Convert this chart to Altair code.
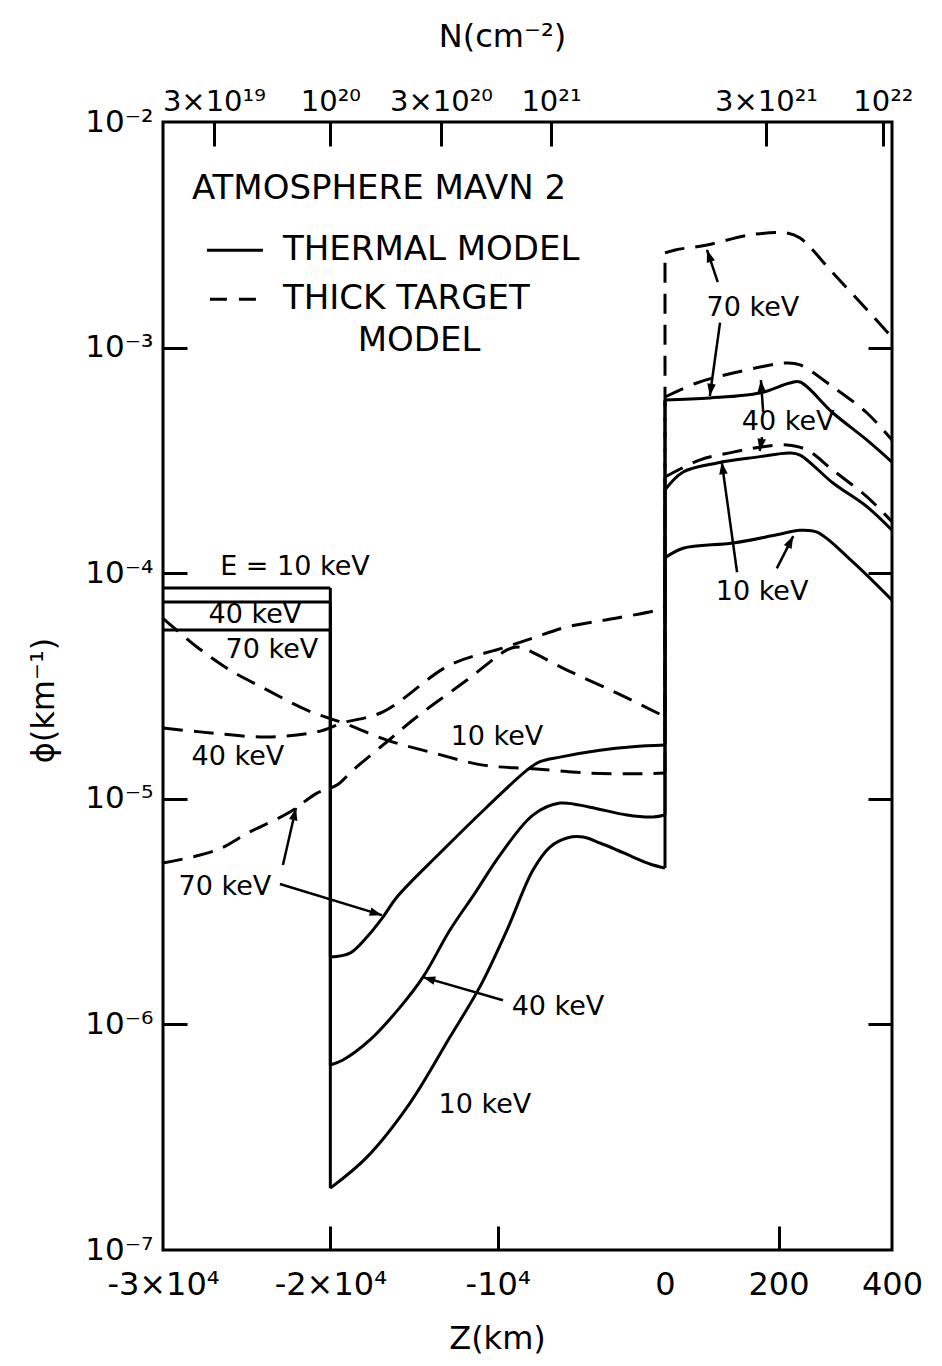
import math
import altair as alt
import pandas as pd

# ------------------------------------------------------------------
# Values.
# z in km: negative part is drawn on the -3e4..0 axis, positive part on
# the 0..400 km axis (broken axis).  phi in km^-1.
# ------------------------------------------------------------------

# Thermal model (solid)
TH10_Z_LEFT = [-30000, -20000, -20000, -17811, -15241, -12851, -11057, -9444, -7890,
               -6874, -5857, -4901, -3885, -2869, -1913, -897, 0]
TH10_PHI_LEFT = [8.6e-5, 8.6e-5, 1.88e-7, 2.58e-7, 4.48e-7, 8.79e-7, 1.47e-6, 2.62e-6, 4.83e-6,
                 6.11e-6, 6.70e-6, 6.77e-6, 6.37e-6, 5.93e-6, 5.52e-6, 5.14e-6, 4.93e-6]
TH10_Z_RIGHT = [0, 32, 120, 197, 238, 268, 328, 400]
TH10_PHI_RIGHT = [1.17e-4, 1.29e-4, 1.36e-4, 1.48e-4, 1.55e-4, 1.52e-4, 1.14e-4, 7.6e-5]

TH40_Z_LEFT = [-30000, -20000, -20000, -19246, -17632, -15839, -14464, -12851, -11356,
               -9862, -7890, -6276, -4483, -2271, -717, 0]
TH40_PHI_LEFT = [7.45e-5, 7.45e-5, 6.61e-7, 6.95e-7, 8.53e-7, 1.19e-6, 1.62e-6, 2.62e-6, 3.82e-6,
                 5.63e-6, 8.47e-6, 9.57e-6, 9.18e-6, 8.47e-6, 8.30e-6, 8.47e-6]
TH40_Z_RIGHT = [0, 32, 92, 162, 220, 238, 296, 356, 400]
TH40_PHI_RIGHT = [2.34e-4, 2.81e-4, 3.08e-4, 3.27e-4, 3.41e-4, 3.34e-4, 2.51e-4, 1.97e-4, 1.55e-4]

TH70_Z_LEFT = [-30000, -20000, -20000, -18828, -17811, -16855, -16018, -13448, -10639,
               -8248, -7471, -6276, -3885, -1913, 0]
TH70_PHI_LEFT = [5.6e-5, 5.6e-5, 1.99e-6, 2.07e-6, 2.44e-6, 2.99e-6, 3.67e-6, 5.75e-6, 9.2e-6,
                 1.34e-5, 1.46e-5, 1.53e-5, 1.64e-5, 1.70e-5, 1.73e-5]
TH70_Z_RIGHT = [0, 79, 167, 220, 238, 296, 356, 400]
TH70_PHI_RIGHT = [5.86e-4, 5.98e-4, 6.29e-4, 6.97e-4, 7.04e-4, 5.13e-4, 3.89e-4, 3.11e-4]

# Thick target model (dashed)
TT10_Z_LEFT = [-30000, -27972, -26000, -23788, -21398, -19246, -16616, -13867, -10878,
               -7890, -4483, -1913, 0]
TT10_PHI_LEFT = [6.3e-5, 4.71e-5, 3.72e-5, 3.04e-5, 2.47e-5, 2.17e-5, 1.82e-5, 1.60e-5, 1.41e-5,
                 1.36e-5, 1.30e-5, 1.29e-5, 1.30e-5]
TT10_Z_RIGHT = [0, 62, 120, 167, 215, 250, 296, 356, 400]
TT10_PHI_RIGHT = [2.67e-4, 3.18e-4, 3.44e-4, 3.62e-4, 3.70e-4, 3.52e-4, 2.86e-4, 2.18e-4, 1.69e-4]

TT40_Z_LEFT = [-30000, -27793, -23788, -20800, -19246, -16855, -12851, -9683, -7890,
               -5857, -2869, -418, 0]
TT40_PHI_LEFT = [2.06e-5, 1.98e-5, 1.88e-5, 1.98e-5, 2.17e-5, 2.43e-5, 3.92e-5, 4.66e-5, 5.16e-5,
                 5.78e-5, 6.33e-5, 6.87e-5, 7.08e-5]
TT40_Z_RIGHT = [0, 56, 120, 215, 238, 296, 356, 400]
TT40_PHI_RIGHT = [6.04e-4, 6.97e-4, 7.71e-4, 8.55e-4, 8.38e-4, 6.69e-4, 5.13e-4, 3.89e-4]

TT70_Z_LEFT = [-30000, -26777, -24805, -22414, -20800, -19605, -18648, -16616, -14823,
               -11834, -9444, -8846, -8248, -5857, -2869, 0]
TT70_PHI_LEFT = [5.19e-6, 5.93e-6, 7.13e-6, 8.74e-6, 1.06e-5, 1.15e-5, 1.34e-5, 1.79e-5, 2.31e-5,
                 3.36e-5, 4.57e-5, 4.71e-5, 4.57e-5, 3.72e-5, 2.94e-5, 2.31e-5]
TT70_Z_RIGHT = [0, 18, 74, 150, 215, 238, 296, 356, 400]
TT70_PHI_RIGHT = [2.63e-3, 2.71e-3, 2.85e-3, 3.16e-3, 3.22e-3, 3.06e-3, 2.14e-3, 1.47e-3, 1.11e-3]

# Curve labels
ANN_TEXT = ["E = 10 keV", "40 keV", "70 keV", "40 keV", "10 keV", "70 keV",
            "40 keV", "10 keV", "70 keV", "40 keV", "10 keV"]
ANN_Z = [-22115, -24506, -23490, -25522, -10041, -26299, -6395, -10759, 155, 217, 171]
ANN_PHI = [1.06e-4, 6.53e-5, 4.57e-5, 1.53e-5, 1.88e-5, 4.06e-6, 1.19e-6, 4.39e-7,
           1.50e-3, 4.68e-4, 8.26e-5]

# Header and legend
HEAD_TEXT = ["ATMOSPHERE  MAVN 2", "THERMAL  MODEL", "THICK  TARGET"]
HEAD_Z = [-28271, -22832, -22832]
HEAD_PHI = [5.05e-3, 2.7e-3, 1.64e-3]
HEAD2_TEXT = ["MODEL"]
HEAD2_Z = [-14703]
HEAD2_PHI = [1.07e-3]
LEG_SOLID_Z = [-27375, -24028]
LEG_SOLID_PHI = 2.7e-3
LEG_DASH_Z = [-27196, -24207]
LEG_DASH_PHI = 1.64e-3

# Arrows (tail -> tip)
ARR_Z_FROM = [-23011, -22832, -9683, 93, 97, 173, 171, 127, 197]
ARR_PHI_FROM = [4.19e-6, 5.09e-6, 1.28e-6, 1.95e-3, 1.29e-3, 5.18e-4, 4.01e-4, 1.01e-4, 1.05e-4]
ARR_Z_TO = [-16915, -22055, -14464, 74, 79, 169, 167, 100, 226]
ARR_PHI_TO = [3.05e-6, 9.10e-6, 1.62e-6, 2.71e-3, 6.10e-4, 7.18e-4, 3.48e-4, 3.11e-4, 1.46e-4]

# Axes
X_TICK_Z = [-30000, -20000, -10000, 0, 200, 400]
X_TICK_LABELS = ["-3×10⁴", "-2×10⁴", "-10⁴", "0", "200", "400"]
X_INNER_TICK_Z = [-20000, -10000, 200]
N_TICK_Z = [-26960, -20000, -13388, -6814, 178, 384]
N_TICK_LABELS = ["3×10¹⁹", "10²⁰", "3×10²⁰", "10²¹", "3×10²¹", "10²²"]
Y_TICK_EXP = [-7, -6, -5, -4, -3, -2]
Y_TICK_LABELS = ["10⁻⁷", "10⁻⁶", "10⁻⁵", "10⁻⁴", "10⁻³", "10⁻²"]
Y_INNER_TICK_EXP = [-6, -5, -4, -3]

# ------------------------------------------------------------------
# Broken axis: 1e4 km on the left part and 400 km on the right part
# ------------------------------------------------------------------
W, H = 729, 1128
RIGHT_SPAN_U = 3 * 227 / 502   # relative width of the 0..400 km segment
U_MIN, U_MAX = -3.0, RIGHT_SPAN_U
FONT = "DejaVu Sans"


def u_of(z):
    return z / 1e4 if z <= 0 else z / 400.0 * RIGHT_SPAN_U


curves = [
    ("th10", "thermal", TH10_Z_LEFT + TH10_Z_RIGHT, TH10_PHI_LEFT + TH10_PHI_RIGHT),
    ("th40", "thermal", TH40_Z_LEFT + TH40_Z_RIGHT, TH40_PHI_LEFT + TH40_PHI_RIGHT),
    ("th70", "thermal", TH70_Z_LEFT + TH70_Z_RIGHT, TH70_PHI_LEFT + TH70_PHI_RIGHT),
    ("tt10", "thick", TT10_Z_LEFT + TT10_Z_RIGHT, TT10_PHI_LEFT + TT10_PHI_RIGHT),
    ("tt40", "thick", TT40_Z_LEFT + TT40_Z_RIGHT, TT40_PHI_LEFT + TT40_PHI_RIGHT),
    ("tt70", "thick", TT70_Z_LEFT + TT70_Z_RIGHT, TT70_PHI_LEFT + TT70_PHI_RIGHT),
]

# split every curve into smooth runs (increasing z) and vertical jumps
rows = []
for name, model, zs, ps in curves:
    us = [u_of(z) for z in zs]
    piece = 0
    run = [(us[0], ps[0])]

    def flush(points, kind):
        for j, (uu, pp) in enumerate(points):
            rows.append({"piece": f"{name}-{kind}-{piece}", "model": model, "kind": kind,
                         "idx": j, "u": uu, "phi": pp})

    for i in range(1, len(us)):
        if us[i] == us[i - 1]:
            if len(run) > 1:
                flush(run, "smooth")
            piece += 1
            flush([(us[i - 1], ps[i - 1]), (us[i], ps[i])], "jump")
            piece += 1
            run = [(us[i], ps[i])]
        else:
            run.append((us[i], ps[i]))
    if len(run) > 1:
        flush(run, "smooth")
df = pd.DataFrame(rows)

ann = pd.DataFrame({"label": ANN_TEXT, "u": [u_of(z) for z in ANN_Z], "phi": ANN_PHI})
head = pd.DataFrame({"label": HEAD_TEXT, "u": [u_of(z) for z in HEAD_Z], "phi": HEAD_PHI})
head2 = pd.DataFrame({"label": HEAD2_TEXT, "u": [u_of(z) for z in HEAD2_Z], "phi": HEAD2_PHI})
leg = pd.DataFrame({
    "kind": ["solid", "dash"],
    "u1": [u_of(LEG_SOLID_Z[0]), u_of(LEG_DASH_Z[0])],
    "u2": [u_of(LEG_SOLID_Z[1]), u_of(LEG_DASH_Z[1])],
    "phi": [LEG_SOLID_PHI, LEG_DASH_PHI],
})


def arrow_angle(u1, p1, u2, p2):
    sx = (u2 - u1) / (U_MAX - U_MIN) * W
    sy = -(math.log10(p2) - math.log10(p1)) / 5.0 * H
    return math.degrees(math.atan2(sx, -sy)) % 360


arr = pd.DataFrame({
    "u1": [u_of(z) for z in ARR_Z_FROM], "p1": ARR_PHI_FROM,
    "u2": [u_of(z) for z in ARR_Z_TO], "p2": ARR_PHI_TO,
})
arr["ang"] = [arrow_angle(a, b, c, d) for a, b, c, d in zip(arr.u1, arr.p1, arr.u2, arr.p2)]


def label_expr(values, labels):
    parts = [f"abs(datum.value - ({v:.6f})) < 0.0005 ? '{l}'" for v, l in zip(values, labels)]
    return " : ".join(parts) + " : ''"


def ylabel_expr(exps, labels):
    parts = [f"abs(log(datum.value) / LN10 - ({e})) < 0.01 ? '{l}'" for e, l in zip(exps, labels)]
    return " : ".join(parts) + " : ''"


xs = alt.Scale(domain=[U_MIN, U_MAX], nice=False, zero=False)
ys = alt.Scale(type="log", domain=[1e-7, 1e-2], nice=False)

tick_style = dict(labels=False, ticks=True, tickSize=24, tickWidth=3, tickColor="black",
                  domain=False, grid=False, title=None)

ax_bottom = alt.Axis(orient="bottom", values=[u_of(z) for z in X_TICK_Z],
                     labelExpr=label_expr([u_of(z) for z in X_TICK_Z], X_TICK_LABELS),
                     ticks=False, tickSize=0, domain=False, grid=False,
                     labelFontSize=32, labelPadding=19, labelFlush=False, labelOverlap=False,
                     title="Z(km)", titleFontSize=32, titleX=334, titleY=88,
                     titleAlign="center", titleBaseline="middle")
ax_left = alt.Axis(orient="left", values=[10.0 ** e for e in Y_TICK_EXP],
                   labelExpr=ylabel_expr(Y_TICK_EXP, Y_TICK_LABELS),
                   ticks=False, tickSize=0, domain=False, grid=False,
                   labelFontSize=31, labelPadding=10, labelFlush=False, labelOverlap=False,
                   title="ϕ(km⁻¹)", titleFontSize=32, titleX=-120, titleY=578,
                   titleAngle=270, titleAlign="center", titleBaseline="middle")
ax_top = alt.Axis(orient="top", values=[u_of(z) for z in N_TICK_Z],
                  labelExpr=label_expr([u_of(z) for z in N_TICK_Z], N_TICK_LABELS),
                  ticks=False, tickSize=0, domain=False, grid=False,
                  labelFontSize=29, labelPadding=6, labelFlush=False, labelOverlap=False,
                  title="N(cm⁻²)", titleFontSize=32, titleX=339, titleY=-86,
                  titleAlign="center", titleBaseline="middle")
# inward ticks: an axis placed on the opposite edge points its ticks into the frame
ax_in_bottom = alt.Axis(orient="top", offset=-H, values=[u_of(z) for z in X_INNER_TICK_Z], **tick_style)
ax_in_top = alt.Axis(orient="bottom", offset=-H, values=[u_of(z) for z in N_TICK_Z], **tick_style)
ax_in_left = alt.Axis(orient="right", offset=-W, values=[10.0 ** e for e in Y_INNER_TICK_EXP], **tick_style)
ax_in_right = alt.Axis(orient="left", offset=-W, values=[10.0 ** e for e in Y_INNER_TICK_EXP], **tick_style)

DASH = [20, 11]


def curve_layer(model, kind, axx, axy):
    sub = df[(df.model == model) & (df.kind == kind)]
    props = dict(color="black", strokeWidth=3,
                 interpolate="catmull-rom" if kind == "smooth" else "linear")
    if model == "thick":
        props["strokeDash"] = DASH
    return alt.Chart(sub).mark_line(**props).encode(
        x=alt.X("u:Q", scale=xs, axis=axx),
        y=alt.Y("phi:Q", scale=ys, axis=axy),
        detail="piece:N", order="idx:Q")


solid = curve_layer("thermal", "smooth", ax_bottom, ax_left)
solid_jump = curve_layer("thermal", "jump", None, None)
dashed = curve_layer("thick", "smooth", ax_in_bottom, ax_in_left)
dashed_jump = curve_layer("thick", "jump", None, None)

labels = alt.Chart(ann).mark_text(font=FONT, fontSize=27, color="black",
                                  align="center", baseline="middle").encode(
    x=alt.X("u:Q", scale=xs, axis=ax_in_top),
    y=alt.Y("phi:Q", scale=ys, axis=ax_in_right),
    text="label:N")

arrows = alt.Chart(arr).mark_rule(color="black", strokeWidth=2.5).encode(
    x=alt.X("u1:Q", scale=xs, axis=ax_top), x2="u2:Q",
    y=alt.Y("p1:Q", scale=ys, axis=None), y2="p2:Q")

heads = alt.Chart(arr).mark_point(shape="M0,0 L-0.7,2 L0.7,2 Z", filled=True, color="black",
                                  size=150, opacity=1).encode(
    x=alt.X("u2:Q", scale=xs, axis=None),
    y=alt.Y("p2:Q", scale=ys, axis=None),
    angle=alt.Angle("ang:Q", scale=None))

head_left = alt.Chart(head).mark_text(font=FONT, fontSize=34, color="black",
                                      align="left", baseline="middle").encode(
    x=alt.X("u:Q", scale=xs, axis=None),
    y=alt.Y("phi:Q", scale=ys, axis=None),
    text="label:N")

head_center = alt.Chart(head2).mark_text(font=FONT, fontSize=34, color="black",
                                         align="center", baseline="middle").encode(
    x=alt.X("u:Q", scale=xs, axis=None),
    y=alt.Y("phi:Q", scale=ys, axis=None),
    text="label:N")

leg_solid = alt.Chart(leg[leg.kind == "solid"]).mark_rule(color="black", strokeWidth=3).encode(
    x=alt.X("u1:Q", scale=xs, axis=None), x2="u2:Q",
    y=alt.Y("phi:Q", scale=ys, axis=None))
leg_dash = alt.Chart(leg[leg.kind == "dash"]).mark_rule(color="black", strokeWidth=3,
                                                       strokeDash=[17, 12]).encode(
    x=alt.X("u1:Q", scale=xs, axis=None), x2="u2:Q",
    y=alt.Y("phi:Q", scale=ys, axis=None))

chart = alt.layer(
    solid, solid_jump, dashed, dashed_jump, labels, arrows, heads,
    head_left, head_center, leg_solid, leg_dash
).resolve_scale(
    x="independent", y="independent"
).properties(
    width=W, height=H,
    padding={"left": 155, "top": 114, "right": 42, "bottom": 112},
    autosize=alt.AutoSizeParams(type="none"),
    background="white",
).configure_view(
    stroke="black", strokeWidth=3
).configure_axis(
    labelFont=FONT, titleFont=FONT, labelColor="black", titleColor="black",
    titleFontWeight="normal"
)

chart.save("out.html", embed_options={"renderer": "svg", "actions": False})
